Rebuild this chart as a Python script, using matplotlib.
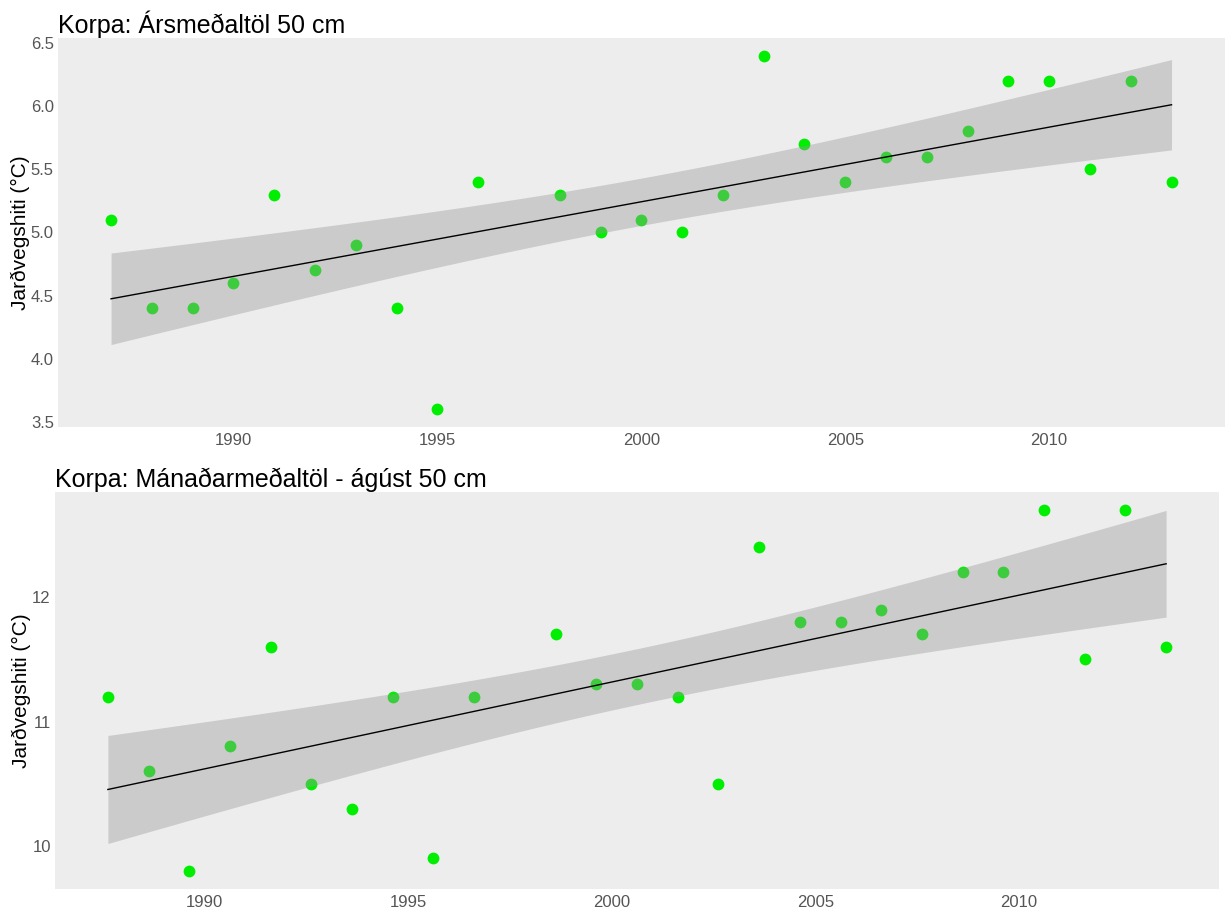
import numpy as np
import matplotlib.pyplot as plt

plt.rcParams['font.family'] = ['Liberation Sans', 'DejaVu Sans']

# Ársmeðaltöl 50 cm (1997 vantar)
years = [1987, 1988, 1989, 1990, 1991, 1992, 1993, 1994, 1995, 1996,
         1998, 1999, 2000, 2001, 2002, 2003, 2004, 2005, 2006, 2007,
         2008, 2009, 2010, 2011, 2012, 2013]
annual = [5.1, 4.4, 4.4, 4.6, 5.3, 4.7, 4.9, 4.4, 3.6, 5.4,
          5.3, 5.0, 5.1, 5.0, 5.3, 6.4, 5.7, 5.4, 5.6, 5.6,
          5.8, 6.2, 6.2, 5.5, 6.2, 5.4]
# Mánaðarmeðaltöl ágúst 50 cm
august = [11.2, 10.6, 9.8, 10.8, 11.6, 10.5, 10.3, 11.2, 9.9, 11.2,
          11.7, 11.3, 11.3, 11.2, 10.5, 12.4, 11.8, 11.8, 11.9, 11.7,
          12.2, 12.2, 12.7, 11.5, 12.7, 11.6]

titles = ['Korpa: Ársmeðaltöl 50 cm', 'Korpa: Mánaðarmeðaltöl - ágúst 50 cm']
ylabel = 'Jarðvegshiti (°C)'
xticks = [1990, 1995, 2000, 2005, 2010]

T_975 = 2.0639  # t-gildi, 24 frígráður

fig = plt.figure(figsize=(12.27, 9.18), dpi=100)
ax1 = fig.add_axes([0.0473, 0.5349, 0.9507, 0.4237])
ax2 = fig.add_axes([0.0448, 0.0316, 0.9487, 0.4325])


def panel(ax, x, y, title, yticks):
    x = np.asarray(x, dtype=float)
    y = np.asarray(y, dtype=float)
    ax.set_facecolor('#ededed')
    ax.scatter(x, y, s=72, color='#00ee00', zorder=2, linewidths=0)

    # línuleg aðhvarfsgreining með 95% öryggisbili
    n = len(x)
    b, a = np.polyfit(x, y, 1)
    xs = np.linspace(x.min(), x.max(), 200)
    fit = a + b * xs
    resid = y - (a + b * x)
    s = np.sqrt(np.sum(resid**2) / (n - 2))
    se = s * np.sqrt(1 / n + (xs - x.mean())**2 / np.sum((x - x.mean())**2))
    ax.fill_between(xs, fit - T_975 * se, fit + T_975 * se,
                    color='#999999', alpha=0.4, linewidth=0, zorder=3)
    ax.plot(xs, fit, color='black', linewidth=1, zorder=4)

    rx = x.max() - x.min()
    ry = y.max() - y.min()
    ax.set_xlim(x.min() - 0.05 * rx, x.max() + 0.05 * rx)
    ax.set_ylim(y.min() - 0.05 * ry, y.max() + 0.05 * ry)
    ax.set_xticks(xticks)
    ax.set_xticklabels([str(t) for t in xticks])
    ax.set_yticks(yticks)
    ax.tick_params(length=0, labelsize=12, labelcolor='#555555', pad=4)
    ax.tick_params(axis='y', pad=3)
    for sp in ax.spines.values():
        sp.set_visible(False)
    ax.set_ylabel(ylabel, fontsize=15)
    ax.set_title(title, loc='left', fontsize=18, pad=3)


panel(ax1, years, annual, titles[0], [3.5, 4.0, 4.5, 5.0, 5.5, 6.0, 6.5])
ax1.set_yticklabels(['3.5', '4.0', '4.5', '5.0', '5.5', '6.0', '6.5'])
ax1.yaxis.set_label_coords(-0.024, 0.5)
panel(ax2, np.array(years) + 0.62, august, titles[1], [10, 11, 12])
ax2.yaxis.set_label_coords(-0.021, 0.5)

fig.savefig('out.png', dpi=100)
